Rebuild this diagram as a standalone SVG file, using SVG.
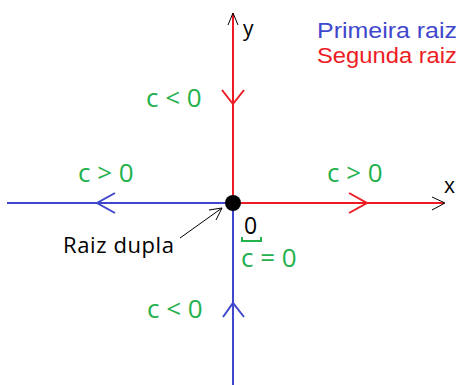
<svg xmlns="http://www.w3.org/2000/svg" width="461" height="385" viewBox="0 0 461 385">
<style>
.g{fill:#22b14c;font-family:"Open Sans","Liberation Sans",sans-serif;font-size:26px}
.k{fill:#000;font-family:"Open Sans","Liberation Sans",sans-serif}
.leg{font-family:"Liberation Sans","Open Sans",sans-serif;font-size:22px}
.red{stroke:#ed1c24;stroke-width:2;fill:none}
.blue{stroke:#3f48cc;stroke-width:2;fill:none}
.thin{stroke:#000;stroke-width:1;fill:none}
</style>
<rect width="461" height="385" fill="#fff"/>
<g id="connectors">
<line class="blue" x1="7" y1="203" x2="233" y2="203"/>
<line class="blue" x1="233" y1="203" x2="233" y2="385"/>
<line class="red" x1="233" y1="203" x2="444" y2="203"/>
<line class="red" x1="233" y1="13" x2="233" y2="203"/>
<polyline class="thin" points="228,25 233,13 238,25"/>
<polyline class="thin" points="432,197 445,203 432,210"/>
<polyline class="red" points="222,90 233,104 244,90"/>
<polyline class="red" points="349,193 367,203 349,213"/>
<polyline class="blue" points="115,193 97,203 115,213"/>
<polyline class="blue" points="223,317 233,303 244,317"/>
<line class="thin" x1="180" y1="238" x2="222" y2="208" stroke-width="0.8"/>
<polyline class="thin" points="209,210 222,208 216,220" stroke-width="0.8"/>
</g>
<g id="origin"><circle cx="233" cy="203" r="8" fill="#000"/></g>
<g id="labels">
<text class="k" x="243" y="36" font-size="21">y</text>
<text class="k" x="444" y="193" font-size="21">x</text>
<text class="leg" x="317" y="38" fill="#3f48cc" textLength="140" lengthAdjust="spacingAndGlyphs">Primeira raiz</text>
<text class="leg" x="317" y="63" fill="#ed1c24" textLength="140" lengthAdjust="spacingAndGlyphs">Segunda raiz</text>
<text class="g" x="146" y="107">c &lt; 0</text>
<text class="g" x="78" y="182">c &gt; 0</text>
<text class="g" x="327" y="182">c &gt; 0</text>
<text class="g" x="147" y="318">c &lt; 0</text>
<text class="g" x="241" y="267">c = 0</text>
<text class="k" x="244" y="234" font-size="23">0</text>
<polyline points="242,237 242,241 261,241 261,237" stroke="#22b14c" stroke-width="2" fill="none"/>
<text class="k" x="63" y="253" font-size="22" textLength="111">Raiz dupla</text>
</g>
</svg>
